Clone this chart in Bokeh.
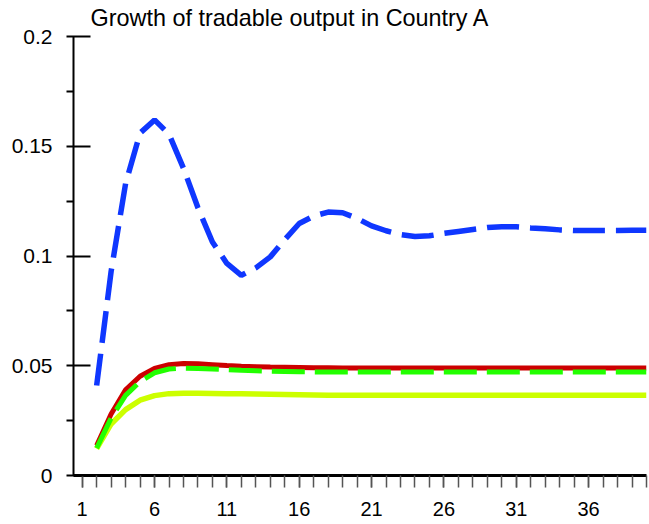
from bokeh.plotting import figure
from bokeh.models import FixedTicker, Range1d, CustomJSTickFormatter
from bokeh.embed import file_html
from bokeh.resources import INLINE

periods = list(range(2, 41))
x_tick_labels = [1, 6, 11, 16, 21, 26, 31, 36]
y_ticks = [0, 0.05, 0.1, 0.15, 0.2]

blue_series = [0.041, 0.093, 0.133, 0.156, 0.162, 0.1555, 0.140, 0.122, 0.1064, 0.0966,
               0.0912, 0.0946, 0.0996, 0.1075, 0.1148, 0.1182, 0.1200, 0.1197, 0.1171, 0.1137,
               0.1115, 0.1098, 0.1089, 0.1092, 0.1103, 0.1112, 0.1121, 0.1130, 0.1133, 0.1133,
               0.1128, 0.1124, 0.1119, 0.1116, 0.1116, 0.1116, 0.1116, 0.1117, 0.1117]
red_series = [0.0137, 0.0280, 0.0390, 0.0452, 0.0488, 0.0505, 0.0510, 0.0509, 0.0505, 0.0501,
              0.0498, 0.0496, 0.0494, 0.0493, 0.0492, 0.0491, 0.0491, 0.0490, 0.0490, 0.0490,
              0.0490, 0.0490, 0.0490, 0.0490, 0.0490, 0.0490, 0.0490, 0.0490, 0.0490, 0.0490,
              0.0490, 0.0490, 0.0490, 0.0490, 0.0490, 0.0490, 0.0490, 0.0490, 0.0490]
green_series = [0.0125, 0.0262, 0.0365, 0.0428, 0.0468, 0.0485, 0.0489, 0.0488, 0.0485, 0.0482,
                0.0479, 0.0477, 0.0475, 0.0474, 0.0473, 0.0472, 0.0471, 0.0471, 0.0471, 0.0471,
                0.0471, 0.0471, 0.0471, 0.0471, 0.0471, 0.0471, 0.0471, 0.0471, 0.0471, 0.0471,
                0.0471, 0.0471, 0.0471, 0.0471, 0.0471, 0.0471, 0.0471, 0.0471, 0.0471]
yellow_series = [0.0122, 0.0235, 0.0300, 0.0343, 0.0364, 0.0373, 0.0375, 0.0375, 0.0374, 0.0373,
                 0.0372, 0.0371, 0.0370, 0.0369, 0.0368, 0.0367, 0.0366, 0.0366, 0.0366, 0.0366,
                 0.0366, 0.0366, 0.0366, 0.0366, 0.0366, 0.0366, 0.0366, 0.0366, 0.0366, 0.0366,
                 0.0366, 0.0366, 0.0366, 0.0366, 0.0366, 0.0366, 0.0366, 0.0366, 0.0366]

FONT = "Liberation Sans"

p = figure(width=649, height=524, output_backend="svg", toolbar_location=None,
           title="Growth of tradable output in Country A",
           x_range=Range1d(0.4, 40.0), y_range=Range1d(0, 0.2),
           min_border_left=73, min_border_right=3, min_border_top=36, min_border_bottom=49)
p.title.text_font = FONT
p.title.text_font_size = "23.4px"
p.title.text_font_style = "normal"
p.title.text_color = "black"
p.title.align = "left"
p.title.offset = 17
p.title.standoff = 7
p.title.vertical_align = "top"

p.outline_line_color = None
p.xgrid.grid_line_color = None
p.ygrid.grid_line_color = None
p.background_fill_color = "white"
p.border_fill_color = "white"

p.line(periods, yellow_series, line_color="#ccff00", line_width=5.5)
p.line(periods, red_series, line_color="#cc0000", line_width=5)
p.line(periods, green_series, line_color="#22ff00", line_width=5, line_dash="33 10")
p.line(periods, blue_series, line_color="#0f37ff", line_width=5.5, line_dash="32 11")

# x axis
xa = p.xaxis[0]
xa.ticker = FixedTicker(ticks=x_tick_labels, minor_ticks=list(range(1, 41)))
xa.axis_line_color = "black"
xa.axis_line_width = 3
xa.major_tick_in = 0
xa.major_tick_out = 12
xa.minor_tick_in = 0
xa.minor_tick_out = 12
xa.major_tick_line_color = "#555555"
xa.minor_tick_line_color = "#555555"
xa.major_tick_line_width = 1.5
xa.minor_tick_line_width = 1.5
xa.major_label_text_font = FONT
xa.major_label_text_font_size = "20px"
xa.major_label_text_color = "black"
xa.major_label_standoff = 14

# y axis
ya = p.yaxis[0]
ya.ticker = FixedTicker(ticks=y_ticks, minor_ticks=[0.025, 0.075, 0.125, 0.175])
ya.formatter = CustomJSTickFormatter(code="return String(Math.round(tick*1000)/1000);")
ya.axis_line_color = "black"
ya.axis_line_width = 2
ya.major_tick_in = 17
ya.major_tick_out = 7
ya.minor_tick_in = 0
ya.minor_tick_out = 7
ya.major_tick_line_color = "black"
ya.minor_tick_line_color = "black"
ya.major_tick_line_width = 2
ya.minor_tick_line_width = 2
ya.major_label_text_font = FONT
ya.major_label_text_font_size = "21px"
ya.major_label_text_color = "black"
ya.major_label_standoff = 14

open("out.html", "w").write(file_html(p, INLINE))
